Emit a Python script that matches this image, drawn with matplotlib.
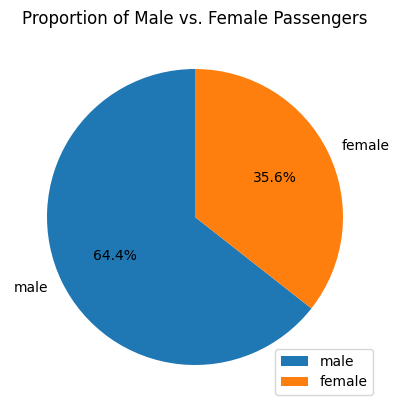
import matplotlib.pyplot as plt

labels = ["male", "female"]
counts = [843, 466]

fig = plt.figure(figsize=(3.99, 4.11), dpi=100)
ax = fig.add_axes([10 / 399, 9 / 411, 370 / 399, 370 / 411])
ax.pie(counts, labels=labels, autopct="%1.1f%%", startangle=90)
ax.set_title("Proportion of Male vs. Female Passengers")
ax.legend(loc="lower right")
plt.savefig("out.png")
plt.close()
